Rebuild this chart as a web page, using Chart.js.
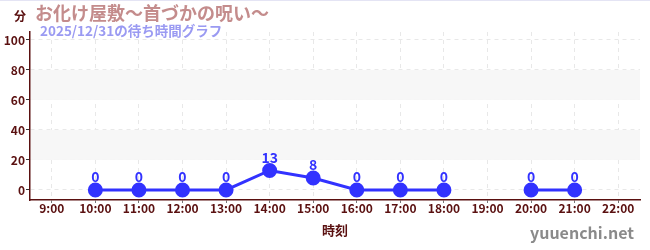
<!DOCTYPE html>
<html>
<head>
<meta charset="utf-8">
<script src="https://cdn.jsdelivr.net/npm/chart.js@4.4.1/dist/chart.umd.min.js"></script>
<style>
  html, body { margin: 0; padding: 0; background: #fff; }
  #wrap { width: 650px; height: 250px; position: relative; }
</style>
</head>
<body>
<div id="wrap"><canvas id="myChart" width="650" height="250"></canvas></div>
<script>
const hours = ['9:00', '10:00', '11:00', '12:00', '13:00', '14:00', '15:00', '16:00', '17:00', '18:00', '19:00', '20:00', '21:00', '22:00'];
const waitMinutes = [null, 0, 0, 0, 0, 13, 8, 0, 0, 0, null, 0, 0, null];
const bands = [[20, 40], [60, 80]];

const titleText = 'お化け屋敷〜首づかの呪い〜';
const subtitleText = '2025/12/31の待ち時間グラフ';
const FONT = '"Noto Sans CJK JP", "Noto Sans", sans-serif';
const brown = '#5a1010';
const blue = '#3232ff';

// bands behind the plot + texts on top
const decor = {
  id: 'decor',
  beforeDatasetsDraw(chart) {
    const { ctx, chartArea, scales } = chart;
    ctx.save();
    ctx.fillStyle = '#f7f7f7';
    bands.forEach(b => {
      const y1 = scales.y.getPixelForValue(b[1]);
      const y0 = scales.y.getPixelForValue(b[0]);
      ctx.fillRect(chartArea.left + 1, y1, chartArea.right - chartArea.left - 1, y0 - y1);
    });
    ctx.restore();
  },
  afterDatasetsDraw(chart) {
    const { ctx } = chart;
    const meta = chart.getDatasetMeta(0);
    ctx.save();
    ctx.font = 'bold 14px ' + FONT;
    ctx.fillStyle = blue;
    ctx.textAlign = 'center';
    ctx.textBaseline = 'bottom';
    meta.data.forEach((pt, i) => {
      const v = waitMinutes[i];
      if (v === null) return;
      ctx.fillText(String(v), pt.x, pt.y - 6);
    });
    ctx.restore();
  },
  afterDraw(chart) {
    const { ctx } = chart;
    ctx.save();
    ctx.fillStyle = '#e4e4f4';
    ctx.fillRect(0, 0, 650, 1);
    ctx.textBaseline = 'middle';
    ctx.textAlign = 'left';
    ctx.fillStyle = brown;
    ctx.font = 'bold 12px ' + FONT;
    ctx.fillText('分', 14, 16);
    ctx.fillStyle = '#c48c8c';
    ctx.font = 'bold 18px ' + FONT;
    ctx.fillText(titleText, 35, 13);
    ctx.fillStyle = '#9a9af2';
    ctx.font = 'bold 13.5px ' + FONT;
    ctx.fillText(subtitleText, 40, 31);
    ctx.fillStyle = '#8a8a8a';
    ctx.font = 'bold 16px ' + FONT;
    ctx.textAlign = 'right';
    ctx.fillText('yuuenchi.net', 634, 233);
    ctx.restore();
  }
};

const context = document.getElementById('myChart').getContext('2d');
const myChart = new Chart(context, {
  type: 'line',
  data: {
    labels: hours,
    datasets: [{
      data: waitMinutes,
      borderColor: blue,
      backgroundColor: blue,
      borderWidth: 3,
      pointRadius: 6,
      pointHoverRadius: 6,
      lineTension: 0,
      spanGaps: false,
      fill: false
    }]
  },
  options: {
    responsive: false,
    animation: false,
    layout: { padding: { top: 32, right: 10, bottom: 0, left: 0 } },
    plugins: {
      legend: { display: false },
      tooltip: { enabled: false }
    },
    scales: {
      x: {
        offset: true,
        afterFit(scale) { scale.height = 50; },
        // in v4 border.dash sets the dash of the grid lines
        border: { color: brown, width: 1.5, dash: [4, 4] },
        grid: {
          offset: false,
          color: '#e8e8e8',
          tickColor: '#777',
          tickLength: 3,
          tickBorderDash: []
        },
        ticks: {
          color: brown,
          font: { family: FONT, size: 12, weight: 'bold' },
          padding: -2,
          maxRotation: 0,
          autoSkip: false
        },
        title: {
          display: true,
          text: '時刻',
          color: brown,
          font: { family: FONT, size: 13, weight: 'bold' },
          padding: { top: 0, bottom: 12 }
        }
      },
      y: {
        min: -6.7,
        max: 105.3,
        afterFit(scale) { scale.width = 30; },
        afterBuildTicks(scale) {
          scale.ticks = [];
          for (let v = 0; v <= 100; v += 10) scale.ticks.push({ value: v });
        },
        border: { color: brown, width: 1.5, dash: [4, 4] },
        grid: {
          color: ctx => (ctx.tick && ctx.tick.value % 20 === 0) ? '#e8e8e8' : 'rgba(0,0,0,0)',
          tickColor: ctx => (ctx.tick && ctx.tick.value % 20 === 0) ? '#333' : '#d02020',
          tickLength: 4,
          tickBorderDash: []
        },
        ticks: {
          color: brown,
          font: { family: FONT, size: 12, weight: 'bold' },
          padding: 1,
          callback: v => (v % 20 === 0 ? String(v) : '')
        }
      }
    }
  },
  plugins: [decor]
});
</script>
</body>
</html>
